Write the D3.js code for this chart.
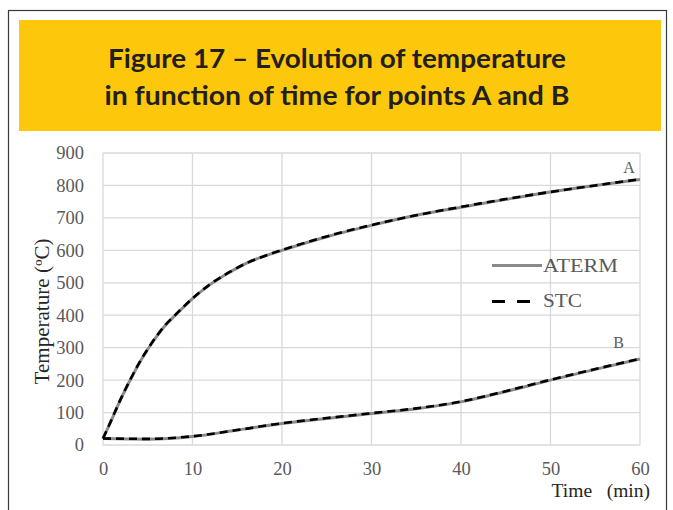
<!DOCTYPE html>
<html>
<head>
<meta charset="utf-8">
<script src="https://cdn.jsdelivr.net/npm/d3@7"></script>
<style>
  body { margin: 0; background: #fff; }
</style>
</head>
<body>
<div id="chart"></div>
<script>
"use strict";

// time in minutes
const timeA = [0, 1, 2, 3, 4, 5, 6, 7, 8, 9, 10, 12, 14, 16, 18, 20, 25, 30, 35, 40, 45, 50, 55, 60];
const atermA = [20, 80, 142, 198, 250, 295, 335, 370, 398, 425, 451, 495, 530, 560, 582, 600, 642, 677, 708, 733, 757, 780, 800, 818];
const stcA   = [20, 81, 143, 199, 251, 296, 336, 371, 399, 426, 452, 496, 531, 560, 582, 601, 643, 678, 708, 734, 758, 780, 800, 819];

const timeB = [0, 5, 10, 15, 20, 25, 30, 35, 40, 45, 50, 55, 60];
const atermB = [20, 18, 26, 46, 66, 82, 97, 112, 133, 165, 200, 233, 265];
const stcB   = [20, 19, 27, 46, 67, 83, 98, 113, 134, 166, 201, 234, 266];

const xTicks = [0, 10, 20, 30, 40, 50, 60];
const yTicks = [0, 100, 200, 300, 400, 500, 600, 700, 800, 900];

const titleLines = ["Figure 17 \u2013 Evolution of temperature", "in function of time for points A and B"];
const titleWidths = [458, 465];


const width = 673;
const height = 510;
const margin = ({top: 153, right: 33, bottom: 65, left: 103});

const serif = "'Liberation Serif', 'Times New Roman', serif";

const x = d3.scaleLinear()
    .domain([0, 60])
    .range([margin.left, width - margin.right]);

const y = d3.scaleLinear()
    .domain([0, 900])
    .range([height - margin.bottom, margin.top]);

const svg = d3.select("#chart").append("svg")
    .attr("width", width)
    .attr("height", height);

// frame + yellow title box
svg.append("rect")
    .attr("x", 8.5).attr("y", 10.5)
    .attr("width", 658).attr("height", 520)
    .attr("fill", "#fff")
    .attr("stroke", "#3a3a3a")
    .attr("stroke-width", 1.2);

svg.append("rect")
    .attr("x", 19).attr("y", 20)
    .attr("width", 642).attr("height", 111)
    .attr("fill", "#fdc80b");

svg.append("g")
    .attr("font-family", "Lato, 'Liberation Sans', sans-serif")
    .attr("font-weight", "bold")
    .attr("font-size", 26.5)
    .attr("fill", "#231f20")
    .attr("text-anchor", "middle")
  .selectAll("text")
  .data(titleLines)
  .join("text")
    .attr("x", 337)
    .attr("y", (d, i) => 68 + i * 36.5)
    .attr("textLength", (d, i) => titleWidths[i])
    .attr("lengthAdjust", "spacingAndGlyphs")
    .text(d => d);

// grid
const grid = svg.append("g")
    .attr("stroke", "#d9d9d9")
    .attr("stroke-width", 1.3);

grid.selectAll(".hy")
  .data(yTicks)
  .join("line")
    .attr("x1", x(0)).attr("x2", x(60))
    .attr("y1", d => y(d)).attr("y2", d => y(d));

grid.selectAll(".vx")
  .data(xTicks)
  .join("line")
    .attr("y1", y(0)).attr("y2", y(900))
    .attr("x1", d => x(d)).attr("x2", d => x(d));

// axes (labels only)
const yAxis = g => g
    .attr("transform", `translate(${margin.left - 19},0)`)
    .call(d3.axisLeft(y).tickValues(yTicks).tickSize(0).tickPadding(0))
    .call(g => g.select(".domain").remove());

const xAxis = g => g
    .attr("transform", `translate(0,${height - margin.bottom + 17})`)
    .call(d3.axisBottom(x).tickValues(xTicks).tickSize(0).tickPadding(0))
    .call(g => g.select(".domain").remove());

svg.append("g").call(yAxis)
    .call(g => g.selectAll("text")
        .attr("font-family", serif)
        .attr("font-size", 18.5)
        .attr("fill", "#595959"));

svg.append("g").call(xAxis)
    .call(g => g.selectAll("text")
        .attr("font-family", serif)
        .attr("font-size", 18.5)
        .attr("fill", "#595959"));

svg.append("text")
    .attr("transform", "translate(49,311.5) rotate(-90)")
    .attr("text-anchor", "middle")
    .attr("font-family", serif)
    .attr("font-size", 20)
    .attr("fill", "#262626")
    .attr("textLength", 146)
    .attr("lengthAdjust", "spacingAndGlyphs")
    .text("Temperature (\u00baC)");

svg.append("text")
    .attr("x", 650)
    .attr("y", 497)
    .attr("text-anchor", "end")
    .attr("font-family", serif)
    .attr("font-size", 19.5)
    .attr("fill", "#262626")
    .attr("xml:space", "preserve")
    .text("Time   (min)");

// lines
const lineA = (xs) => d3.line()
    .x((d, i) => x(xs[i]))
    .y(d => y(d))
    .curve(d3.curveMonotoneX);

const solid = svg.append("g")
    .attr("fill", "none")
    .attr("stroke", "#8a8a8a")
    .attr("stroke-width", 3);

solid.append("path").attr("d", lineA(timeA)(atermA));
solid.append("path").attr("d", lineA(timeB)(atermB));

const dashed = svg.append("g")
    .attr("fill", "none")
    .attr("stroke", "#000")
    .attr("stroke-width", 2.6)
    .attr("stroke-dasharray", "8,5");

dashed.append("path").attr("d", lineA(timeA)(stcA));
dashed.append("path").attr("d", lineA(timeB)(stcB));

// point labels
svg.append("text")
    .attr("x", x(60) - 11).attr("y", y(atermA[atermA.length - 1]) - 6.5)
    .attr("text-anchor", "middle")
    .attr("font-family", serif)
    .attr("font-size", 16)
    .attr("fill", "#595959")
    .text("A");

svg.append("text")
    .attr("x", x(60) - 21.5).attr("y", y(atermB[atermB.length - 1]) - 11)
    .attr("text-anchor", "middle")
    .attr("font-family", serif)
    .attr("font-size", 16)
    .attr("fill", "#595959")
    .text("B");

// legend
const legend = svg.append("g")
    .attr("font-family", serif)
    .attr("font-size", 19.5)
    .attr("fill", "#595959");

legend.append("line")
    .attr("x1", 492).attr("x2", 542)
    .attr("y1", 265.5).attr("y2", 265.5)
    .attr("stroke", "#8a8a8a").attr("stroke-width", 3);

legend.append("text").attr("x", 543).attr("y", 272)
    .attr("textLength", 75).attr("lengthAdjust", "spacingAndGlyphs")
    .text("ATERM");

legend.append("line")
    .attr("x1", 492).attr("x2", 530)
    .attr("y1", 301.5).attr("y2", 301.5)
    .attr("stroke", "#000").attr("stroke-width", 3)
    .attr("stroke-dasharray", "13,12");

legend.append("text").attr("x", 543).attr("y", 307)
    .attr("textLength", 39).attr("lengthAdjust", "spacingAndGlyphs")
    .text("STC");

</script>
</body>
</html>
